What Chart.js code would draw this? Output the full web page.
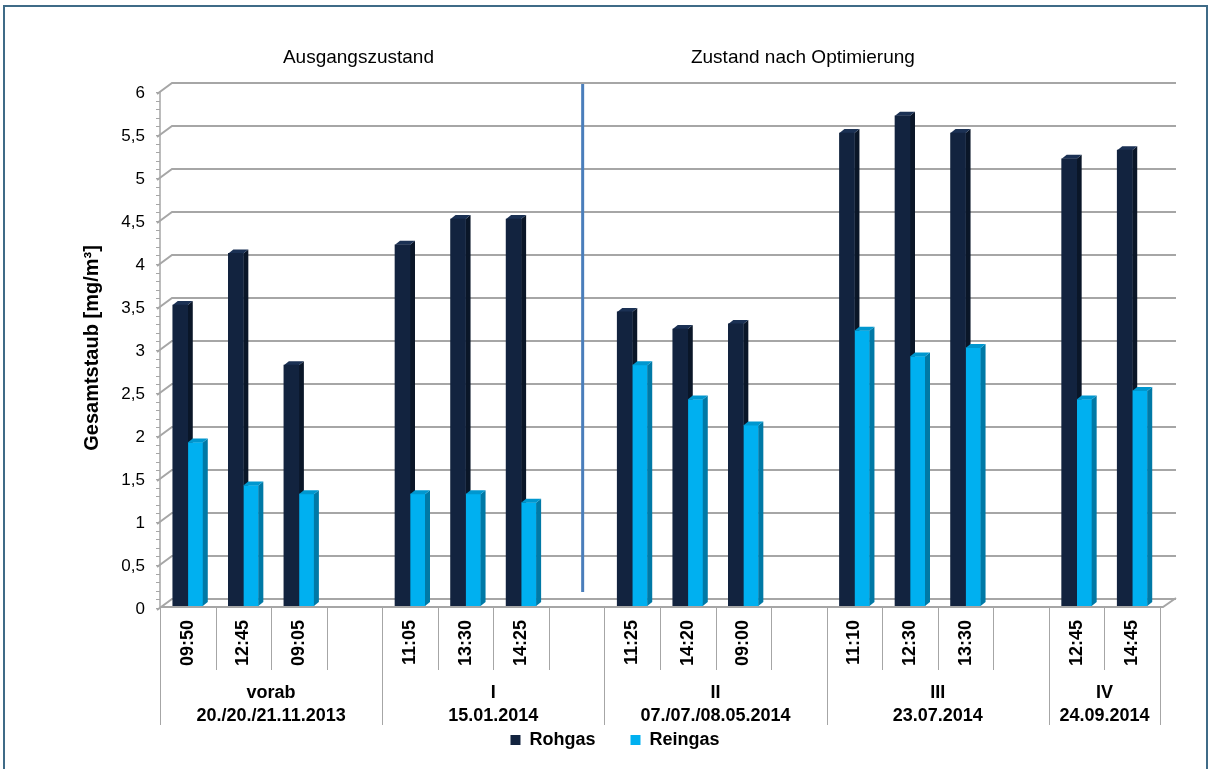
<!DOCTYPE html>
<html>
<head>
<meta charset="utf-8">
<script src="https://cdn.jsdelivr.net/npm/chart.js@4.4.1/dist/chart.umd.min.js"></script>
<style>
  html, body { margin: 0; padding: 0; background: #fff; }
  #wrap { position: relative; width: 1210px; height: 769px; overflow: hidden; }
  #frame { position: absolute; left: 3px; top: 5px; width: 1201px; height: 780px; border: 2px solid #3f6b87; pointer-events: none; }
</style>
</head>
<body>
<div id="wrap">
  <canvas id="chart" width="1210" height="769"></canvas>
  <div id="frame"></div>
</div>
<script>
// Messzeitpunkte (leere Einträge = Lücke zwischen den Messreihen)
const times = ['09:50', '12:45', '09:05', '', '11:05', '13:30', '14:25', '', '11:25', '14:20', '09:00', '', '11:10', '12:30', '13:30', '', '12:45', '14:45'];
const rohgas = [3.5, 4.1, 2.8, null, 4.2, 4.5, 4.5, null, 3.42, 3.22, 3.28, null, 5.5, 5.7, 5.5, null, 5.2, 5.3];
const reingas = [1.9, 1.4, 1.3, null, 1.3, 1.3, 1.2, null, 2.8, 2.4, 2.1, null, 3.2, 2.9, 3.0, null, 2.4, 2.5];

// Messreihen: erster und letzter Slot (exklusiv) + zweizeiliges Label
const groupNames = ['vorab', 'I', 'II', 'III', 'IV'];
const groupDates = ['20./20./21.11.2013', '15.01.2014', '07./07./08.05.2014', '23.07.2014', '24.09.2014'];
const groupStart = [0, 4, 8, 12, 16];
const groupEnd = [4, 8, 12, 16, 18];

// Überschriften über dem Diagramm, an Slot-Index verankert
const phaseLabels = ['Ausgangszustand', 'Zustand nach Optimierung'];
const phaseSlots = [3, 11];
const separatorSlot = 7;

const FONT = '"Liberation Sans", Arial, sans-serif';
const GRID = '#a6a6a6';
const DEPTH_X = 12;
const DEPTH_Y = 9;

const colors = {
  rohgas: { front: '#12233f', side: '#0a1628', top: '#1b3154' },
  reingas: { front: '#00b0f0', side: '#0079a6', top: '#0097cf' },
};

function barBox(el) {
  const p = el.getProps(['x', 'y', 'base', 'width'], true);
  return { l: p.x - p.width / 2, r: p.x + p.width / 2, t: p.y, b: p.base };
}

function drawExtrusion(ctx, el, c) {
  const { l, r, t, b } = barBox(el);
  const dx = 5, dy = 4;
  ctx.fillStyle = c.side;
  ctx.beginPath();
  ctx.moveTo(r, t); ctx.lineTo(r + dx, t - dy); ctx.lineTo(r + dx, b - dy); ctx.lineTo(r, b);
  ctx.closePath(); ctx.fill();
  ctx.fillStyle = c.top;
  ctx.beginPath();
  ctx.moveTo(l, t); ctx.lineTo(l + dx, t - dy); ctx.lineTo(r + dx, t - dy); ctx.lineTo(r, t);
  ctx.closePath(); ctx.fill();
}

const frame3d = {
  id: 'frame3d',
  beforeDatasetsDraw(chart) {
    const { ctx, chartArea: a, scales: { x, y } } = chart;
    ctx.save();
    // Rückwand-Gitter mit Schräge zur Achse
    ctx.strokeStyle = GRID;
    ctx.lineWidth = 2;
    for (let v = 0; v <= 6.001; v += 0.5) {
      const yf = y.getPixelForValue(v) + 2;
      ctx.beginPath();
      ctx.moveTo(a.left - 3, yf + 2);
      ctx.lineTo(a.left + DEPTH_X, yf - DEPTH_Y);
      ctx.lineTo(a.right + DEPTH_X + 4, yf - DEPTH_Y);
      ctx.stroke();
    }
    // Boden
    const y0 = y.getPixelForValue(0) + 1;
    ctx.beginPath();
    ctx.moveTo(a.left, y0);
    ctx.lineTo(a.right + 3, y0);
    ctx.lineTo(a.right + DEPTH_X + 4, y0 - DEPTH_Y);
    ctx.stroke();
    // Achse und Hilfsstriche
    ctx.lineWidth = 1.5;
    ctx.beginPath();
    ctx.moveTo(a.left, y.getPixelForValue(6) + 2);
    ctx.lineTo(a.left, y0);
    ctx.stroke();
    ctx.lineWidth = 1;
    for (let i = 0; i <= 60; i++) {
      const yy = Math.round(y.getPixelForValue(i / 10) + 2) + 0.5;
      ctx.beginPath();
      ctx.moveTo(a.left - 4, yy);
      ctx.lineTo(a.left, yy);
      ctx.stroke();
    }
    // Rohgas-Körper hinter den Reingas-Säulen
    chart.getDatasetMeta(0).data.forEach((el, i) => {
      if (rohgas[i] != null) drawExtrusion(ctx, el, colors.rohgas);
    });
    ctx.restore();
  },
  afterDatasetsDraw(chart) {
    const { ctx, chartArea: a, scales: { x, y } } = chart;
    ctx.save();
    chart.getDatasetMeta(1).data.forEach((el, i) => {
      if (reingas[i] != null) drawExtrusion(ctx, el, colors.reingas);
    });

    // Trennlinie Ausgangszustand / Optimierung
    const sx = x.getPixelForValue(separatorSlot) + 6;
    ctx.strokeStyle = '#4a7ebb';
    ctx.lineWidth = 3;
    ctx.beginPath();
    ctx.moveTo(sx, y.getPixelForValue(6) - 6);
    ctx.lineTo(sx, y.getPixelForValue(0) - 14);
    ctx.stroke();

    // Kategorie-Trennstriche unter der Achse
    const slotW = (a.right - a.left) / times.length;
    const y0 = y.getPixelForValue(0) + 1;
    ctx.strokeStyle = GRID;
    ctx.lineWidth = 1;
    for (let k = 0; k <= times.length; k++) {
      const xx = Math.round(a.left + k * slotW) + 0.5;
      const isGroup = groupStart.includes(k) || k === times.length;
      ctx.beginPath();
      ctx.moveTo(xx, y0);
      ctx.lineTo(xx, isGroup ? 725 : 670);
      ctx.stroke();
    }

    // Messreihen-Beschriftung
    ctx.fillStyle = '#000';
    ctx.textAlign = 'center';
    ctx.textBaseline = 'middle';
    ctx.font = 'bold 18px ' + FONT;
    groupNames.forEach((name, g) => {
      const cx = a.left + (groupStart[g] + groupEnd[g]) / 2 * slotW;
      ctx.fillText(name, cx, 693);
      ctx.fillText(groupDates[g], cx, 716);
    });

    // Phasen-Überschriften
    ctx.font = '19px ' + FONT;
    phaseLabels.forEach((t, i) => {
      ctx.fillText(t, x.getPixelForValue(phaseSlots[i]) + 4, 58);
    });
    ctx.restore();
  },
};

const legendText = ['Rohgas     ', 'Reingas'];

new Chart(document.getElementById('chart'), {
  type: 'bar',
  data: {
    labels: times,
    datasets: [
      { label: 'Rohgas', data: rohgas, backgroundColor: colors.rohgas.front, borderWidth: 0 },
      { label: 'Reingas', data: reingas, backgroundColor: colors.reingas.front, borderWidth: 0 },
    ],
  },
  options: {
    responsive: false,
    animation: false,
    devicePixelRatio: 1,
    layout: { padding: { left: 70, right: 50, top: 90, bottom: 10 } },
    datasets: { bar: { barThickness: 15 } },
    font: { family: FONT },
    plugins: {
      tooltip: { enabled: false },
      legend: {
        position: 'bottom',
        labels: {
          font: { family: FONT, size: 18, weight: 'bold' },
          color: '#000',
          boxWidth: 10,
          boxHeight: 10,
          padding: 10,
          generateLabels(chart) {
            const items = Chart.defaults.plugins.legend.labels.generateLabels(chart);
            items.forEach((it, i) => { it.text = legendText[i]; it.lineWidth = 0; });
            return items;
          },
        },
      },
    },
    scales: {
      x: {
        afterFit(s) { s.height = 115; },
        grid: { display: false, drawTicks: false },
        border: { display: false },
        ticks: {
          autoSkip: false,
          minRotation: 90,
          maxRotation: 90,
          padding: 14,
          color: '#000',
          font: { family: FONT, size: 18, weight: 'bold' },
        },
      },
      y: {
        min: 0,
        max: 6,
        afterFit(s) { s.width = 90; },
        grid: { display: false, drawTicks: false },
        border: { display: false },
        ticks: {
          stepSize: 0.5,
          padding: 15,
          labelOffset: 3,
          color: '#000',
          font: { family: FONT, size: 17 },
          callback: (v) => String(v).replace('.', ','),
        },
        title: {
          display: true,
          text: 'Gesamtstaub [mg/m³]',
          color: '#000',
          font: { family: FONT, size: 20, weight: 'bold' },
          padding: { top: 10, bottom: 0 },
        },
      },
    },
  },
  plugins: [frame3d],
});
</script>
</body>
</html>
